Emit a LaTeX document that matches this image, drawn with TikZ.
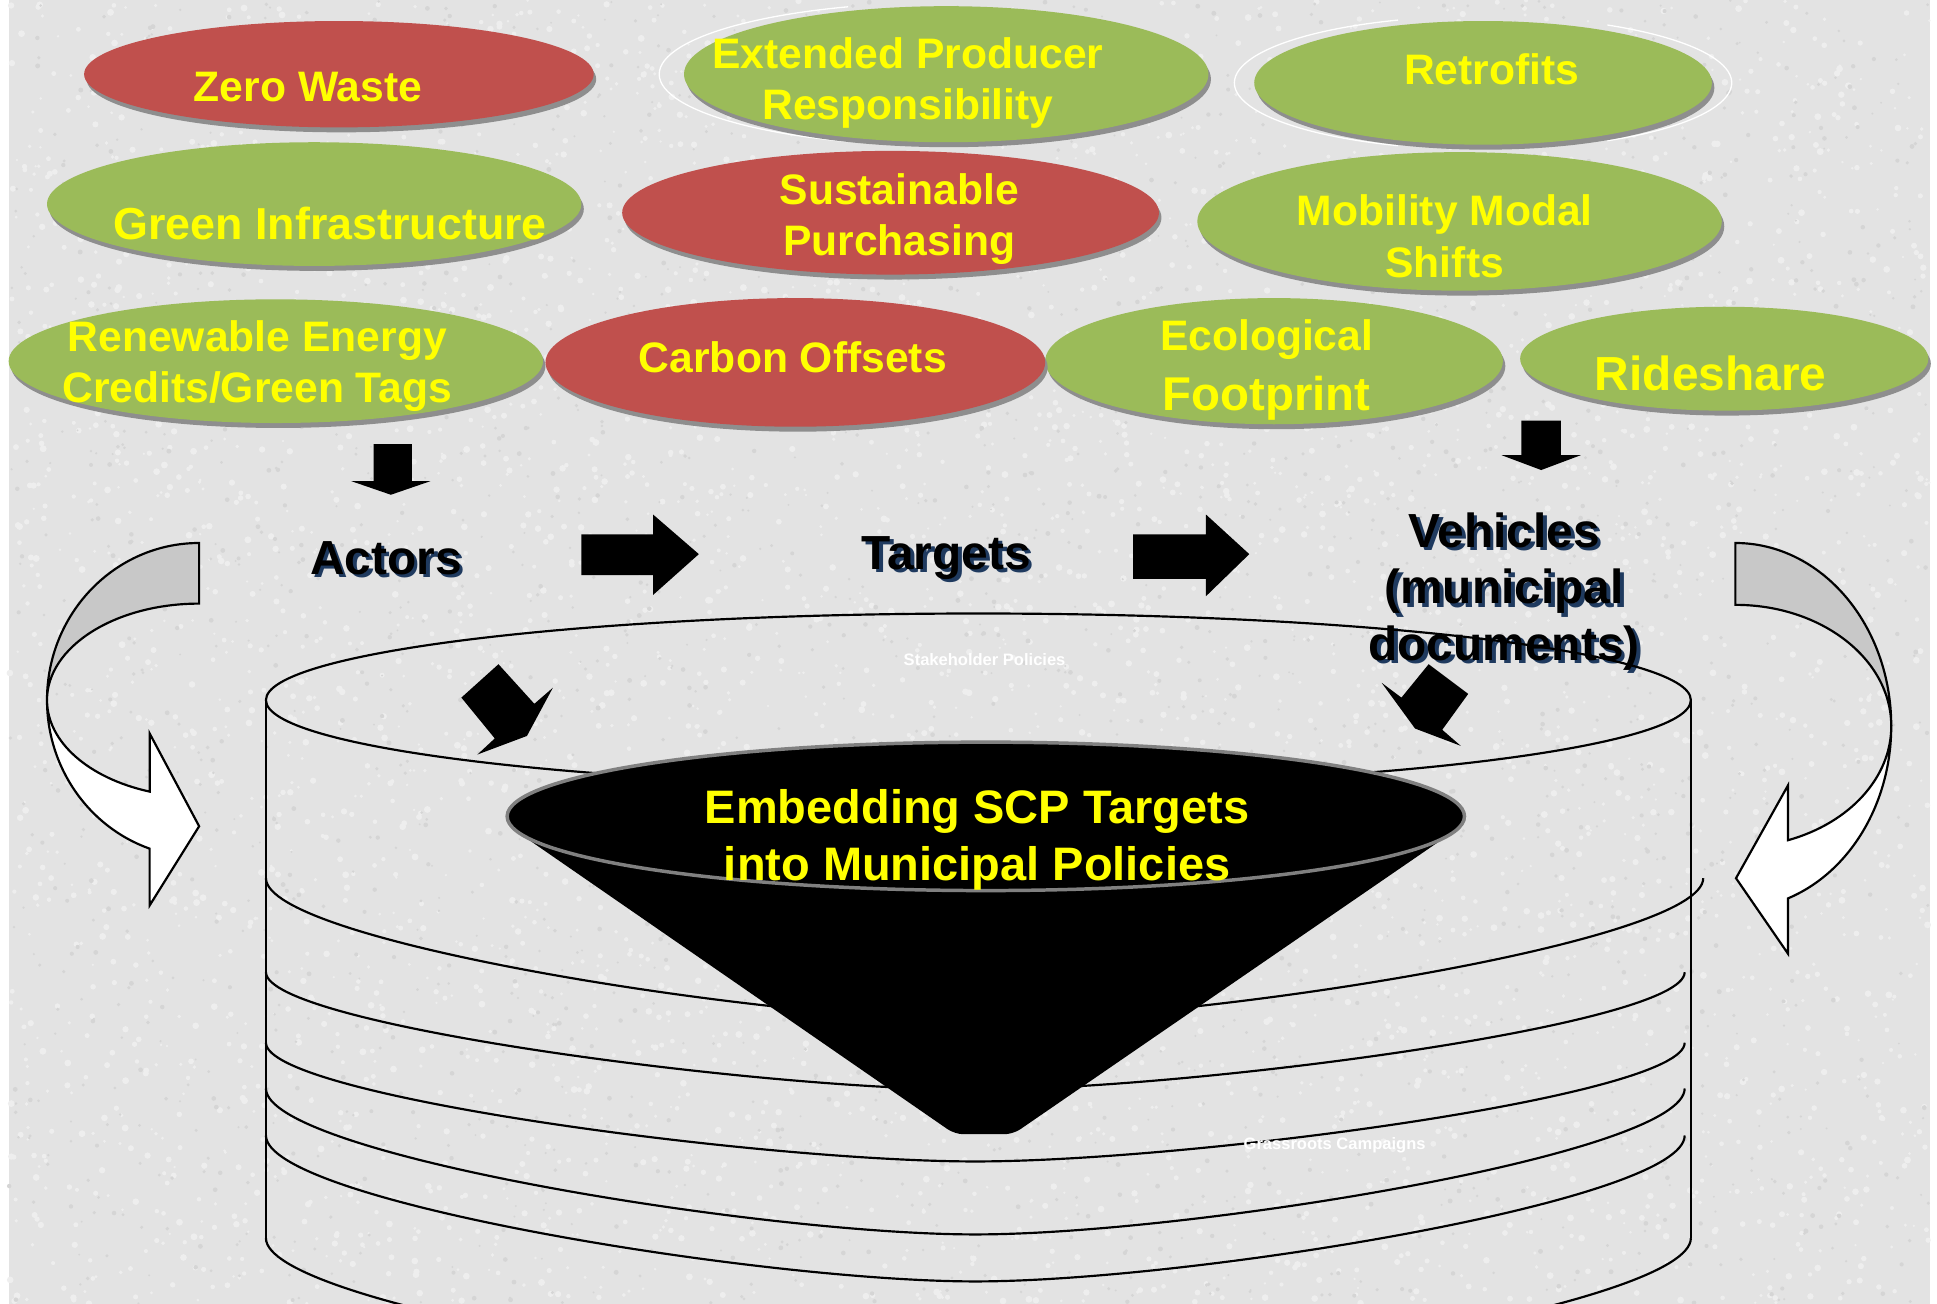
\documentclass[tikz,border=0pt]{standalone}
\usepackage{fontspec}
\setmainfont{Liberation Sans}
\usepackage{tikz}
\usetikzlibrary{calc}
\definecolor{scpred}{HTML}{C0504D}
\definecolor{scpgreen}{HTML}{9BBB59}
\definecolor{scpyellow}{HTML}{FFFF00}
\definecolor{bggrey}{HTML}{E3E3E3}
\definecolor{bglight}{HTML}{EEEEEE}
\definecolor{bgdark}{HTML}{D5D5D5}
\definecolor{bubbleshade}{HTML}{8E8E8E}
\definecolor{navyshade}{HTML}{1F3A5F}
\definecolor{backgrey}{HTML}{C8C8C8}
\def\bubble[#1](#2,#3)(#4:#5){\fill[bubbleshade] (#2+2,#3-4) ellipse ({#4} and {#5}); \fill[#1] (#2,#3) ellipse ({#4} and {#5});}
\def\ring(#1:#2:#3){\draw[cylline] (215,#1) .. controls (215,{#1-0.45*#2}) and ({215+0.35*(#3-215)},{#1-#2}) .. ({(215+#3)/2},{#1-#2}) .. controls ({#3-0.35*(#3-215)},{#1-#2}) and (#3,{#1-0.45*#2}) .. (#3,#1);}
\tikzset{
	bubbletext/.style={text=scpyellow, font=\bfseries\fontsize{9.8}{11.8}\selectfont, align=center, inner sep=0pt},
	labeltext/.style={font=\bfseries\fontsize{11}{13}\selectfont, align=center, inner sep=0pt},
	conetext/.style={text=scpyellow, font=\bfseries\fontsize{10.8}{13}\selectfont, align=center, inner sep=0pt},
	tinytext/.style={text=white, font=\bfseries\fontsize{3.8}{4.5}\selectfont, inner sep=0pt},
	halo/.style={draw=white, line width=0.3pt},
	blockarrow/.style={fill=black},
	cylline/.style={draw=black, line width=0.5pt},
	curvedback/.style={fill=backgrey, draw=black, line width=0.5pt},
	curvedfront/.style={fill=white, draw=black, line width=0.5pt},
}
\begin{document}
\begin{tikzpicture}[x=0.01cm, y=0.01cm]
		%%%%% START %%%%%
		\useasboundingbox (0,0) rectangle (1566,1054);
		\clip (0,0) rectangle (1566,1054);
		\fill[white] (0,0) rectangle (1566,1054);
		\fill[bggrey] (7,0) rectangle (1560,1054);
		% speckled paper
		\pgfmathsetseed{11}
		\foreach \i in {1,...,5000} {\fill[bglight] (7+1553*rnd,1054*rnd) circle (1+1.8*rnd);}
		\foreach \i in {1,...,2500} {\fill[bgdark] (7+1553*rnd,1054*rnd) circle (0.8+1.2*rnd);}
		
		\bubble[scpred](274,994)(206:43)
		\draw[halo] (765,994) ++(110:232 and 58) arc[start angle=110, end angle=250, x radius=232, y radius=58];
		\bubble[scpgreen](765,994)(212:55)
		\draw[halo] (1199,987) ++(110:201 and 54) arc[start angle=110, end angle=250, x radius=201, y radius=54];
		\draw[halo] (1199,987) ++(-60:201 and 54) arc[start angle=-60, end angle=60, x radius=201, y radius=54];
		\bubble[scpgreen](1199,987)(185:50)
		
		\bubble[scpgreen](254,889)(216:50)
		\bubble[scpred](720,882)(217:50)
		\bubble[scpgreen](1180,875)(212:56)
		
		\bubble[scpgreen](223,762)(216:50)
		\bubble[scpgreen](1030,762)(185:51)
		\bubble[scpred](643,761)(202:52)
		\bubble[scpgreen](1394,764)(165:42)
		
		\node[bubbletext] (zerowaste) at (249,984) {Zero Waste};
		\node[bubbletext] (producer) at (734,987) {Extended Producer\\Responsibility};
		\node[bubbletext] (retrofits) at (1206,998) {Retrofits};
		\node[bubbletext, font=\bfseries\fontsize{10.3}{12}\selectfont] (greeninfra) at (267,873) {Green Infrastructure};
		\node[bubbletext] (purchasing) at (727,877) {Sustainable\\Purchasing};
		\node[bubbletext] (mobility) at (1168,863) {Mobility Modal\\Shifts};
		\node[bubbletext] (renewable) at (208,758) {Renewable Energy\\Credits/Green Tags};
		\node[bubbletext] (offsets) at (641,765) {Carbon Offsets};
		\node[bubbletext] (footprint) at (1024,755) {Ecological\\[2pt]{\fontsize{10.9}{12}\selectfont Footprint}};
		\node[bubbletext, font=\bfseries\fontsize{11}{13}\selectfont] (rideshare) at (1383,752) {Rideshare};
		
		% labels with shadow
		\node[labeltext, text=navyshade] (actorsshadow) at (315,600) {Actors};
		\node[labeltext] (actors) at (312,603) {Actors};
		\node[labeltext, text=navyshade] (targetsshadow) at (768,600) {Targets};
		\node[labeltext] (targets) at (765,603) {Targets};
		\node[labeltext, text=navyshade] (vehiclesshadow) at (1219,573) {Vehicles\\(municipal\\documents)};
		\node[labeltext] (vehicles) at (1216,576) {Vehicles\\(municipal\\documents)};
		
		\fill[blockarrow] (302,695) -- (333,695) -- (333,665) -- (348,665) -- (316,654) -- (284,665) -- (302,665) -- cycle;
		\fill[blockarrow] (1230,714) -- (1262,714) -- (1262,686) -- (1278,686) -- (1246,674) -- (1214,686) -- (1230,686) -- cycle;
		\fill[blockarrow] (470,622) -- (528,622) -- (528,638) -- (565,606) -- (528,573) -- (528,589) -- (470,589) -- cycle;
		\fill[blockarrow] (916,622) -- (975,622) -- (975,638) -- (1010,606) -- (975,572) -- (975,586) -- (916,586) -- cycle;
		
		% cylinder
		\draw[cylline] (791,488) ellipse (576 and 70);
		\draw[cylline] (215,488) -- (215,53);
		\draw[cylline] (1367,488) -- (1367,53);
		\ring(344:115:1377)
		\ring(268:95:1362)
		\ring(211:96:1362)
		\ring(174:118:1362)
		\ring(136:118:1362)
		\ring(53:118:1367)
		
		% cone
		\fill[black, rounded corners=2pt] (416,383) -- (772,137) -- (819,137) -- (1177,383) -- cycle;
		\fill[black, draw=gray, line width=0.8pt] (797,394) ellipse (387 and 60);
		\node[conetext] (embedding) at (790,375) {Embedding SCP Targets\\into Municipal Policies};
		
		\fill[blockarrow] (403,517) -- (373,490) -- (400,457) -- (386,444) -- (426,459) -- (447,498) -- (432,485) -- cycle;
		\fill[blockarrow] (1155,517) -- (1187,493) -- (1166,464) -- (1181,451) -- (1144,465) -- (1117,502) -- (1133,490) -- cycle;
		
		\node[tinytext] (stakeholder) at (796,521) {Stakeholder Policies};
		\node[tinytext] (grassroots) at (1079,128) {Grassroots Campaigns};
		
		% curved arrows
		\draw[curvedback] (161,615) arc[start angle=90, end angle=180, x radius=123, y radius=127]
			arc[start angle=180, end angle=90, x radius=123, y radius=78] -- cycle;
		\draw[curvedfront] (38,488) arc[start angle=180, end angle=251, x radius=123, y radius=127]
			-- (121,322) -- (161,386) -- (121,461) -- (121,414)
			arc[start angle=251, end angle=180, x radius=123, y radius=78] -- cycle;
		\draw[curvedback] (1403,615) arc[start angle=90, end angle=0, x radius=126, y radius=148]
			arc[start angle=0, end angle=90, x radius=126, y radius=98] -- cycle;
		\draw[curvedfront] (1529,467) arc[start angle=0, end angle=-70.3, x radius=126, y radius=148]
			-- (1445.5,283) -- (1403.5,344) -- (1445.5,419) -- (1445.5,374.7)
			arc[start angle=-70.3, end angle=0, x radius=126, y radius=98] -- cycle;
		%%%%% END %%%%%
\end{tikzpicture}
\end{document}
